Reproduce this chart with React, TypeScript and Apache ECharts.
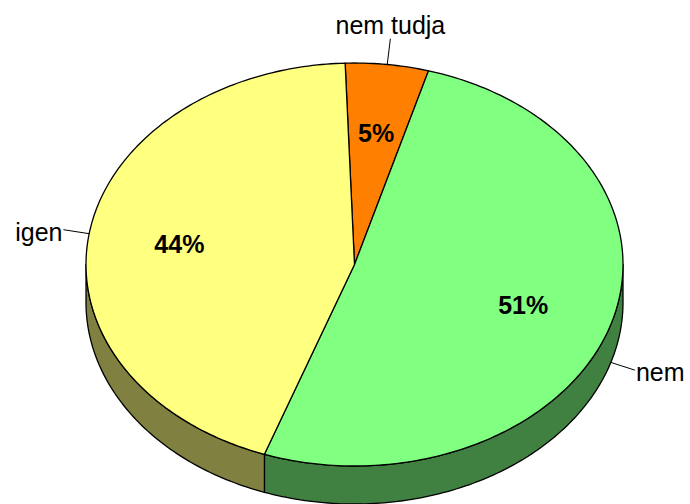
import React, { useEffect, useRef } from "react";
import * as echarts from "echarts";

const categories = ["nem tudja", "nem", "igen"];
const values = [5, 51, 44];
const topColors = ["#FF8000", "#80FF80", "#FFFF80"];
const sideColors = ["#804000", "#408040", "#808040"];

const CX = 354.5;
const CY = 264.5;
const RX = 268.5;
const RY = 201.5;
const DEPTH = 38;
const START_DEG = -2;
const FONT = "'Liberation Sans', Arial, Helvetica, sans-serif";

export default function App() {
  const ref = useRef<HTMLDivElement>(null);

  useEffect(() => {
    if (!ref.current) return;
    const chart = echarts.init(ref.current, undefined, { renderer: "svg" });
    const total = values.reduce((a, b) => a + b, 0);

    const pt = (deg: number, dy = 0): number[] => {
      const r = (deg * Math.PI) / 180;
      return [CX + RX * Math.sin(r), CY - RY * Math.cos(r) + dy];
    };
    const arc = (a: number, b: number, dy = 0): number[][] => {
      const n = Math.max(2, Math.ceil(Math.abs(b - a)));
      const pts: number[][] = [];
      for (let j = 0; j <= n; j++) pts.push(pt(a + ((b - a) * j) / n, dy));
      return pts;
    };

    chart.setOption({
      animation: false,
      backgroundColor: "#ffffff",
      series: [
        {
          type: "custom",
          coordinateSystem: "none",
          data: values.map((v, i) => ({ name: categories[i], value: [v] })),
          renderItem: (params: any, api: any) => {
            const i = params.dataIndex;
            let acc = 0;
            for (let k = 0; k < i; k++) acc += values[k];
            const v = api.value(0) as number;
            const s = START_DEG + (acc / total) * 360;
            const e = s + (v / total) * 360;
            const children: any[] = [];
            const fs = Math.max(s, 90);
            const fe = Math.min(e, 270);
            if (fe > fs) {
              children.push({
                type: "polygon",
                z2: 1,
                shape: { points: [...arc(fs, fe), ...arc(fe, fs, DEPTH)] },
                style: { fill: sideColors[i], stroke: "#000", lineWidth: 1.3, lineJoin: "round" },
              });
            }
            children.push({
              type: "polygon",
              z2: 2,
              shape: { points: [[CX, CY], ...arc(s, e)] },
              style: { fill: topColors[i], stroke: "#000", lineWidth: 1.3, lineJoin: "round" },
            });
            const mid = (s + e) / 2;
            const mr = (mid * Math.PI) / 180;
            const sn = Math.sin(mr);
            const cs = Math.cos(mr);
            // percentage label
            children.push({
              type: "text",
              z2: 10,
              style: {
                text: Math.round((v / total) * 100) + "%",
                x: CX + 0.66 * RX * sn,
                y: CY - 0.66 * RY * cs,
                align: "center",
                verticalAlign: "middle",
                fill: "#000",
                fontSize: 25,
                fontWeight: "bold",
                fontFamily: FONT,
              },
            });
            // outer label with leader
            const anchor = pt(mid, cs < 0 ? DEPTH * 0.95 : 0);
            const end = [anchor[0] + 26 * sn, anchor[1] - 26 * cs];
            children.push({
              type: "polyline",
              z2: 9,
              shape: { points: [anchor, end] },
              style: { stroke: "#000", lineWidth: 1, fill: null },
            });
            let tx = end[0];
            let ty = end[1];
            let align = "center";
            let vAlign = "middle";
            if (Math.abs(sn) < 0.5) {
              ty = cs > 0 ? end[1] - 14 : end[1] + 14;
            } else if (sn > 0) {
              tx = end[0] + 1;
              align = "left";
              ty = end[1] + 2;
            } else {
              tx = end[0] - 1;
              align = "right";
              ty = end[1] + 2;
            }
            children.push({
              type: "text",
              z2: 10,
              style: {
                text: categories[i],
                x: tx,
                y: ty,
                align,
                verticalAlign: vAlign,
                fill: "#000",
                fontSize: 25,
                fontFamily: FONT,
              },
            });
            return { type: "group", children };
          },
        },
      ],
    });
    return () => chart.dispose();
  }, []);

  return (
    <div
      ref={ref}
      style={{ position: "fixed", left: 0, top: 0, width: 690, height: 504 }}
    />
  );
}
